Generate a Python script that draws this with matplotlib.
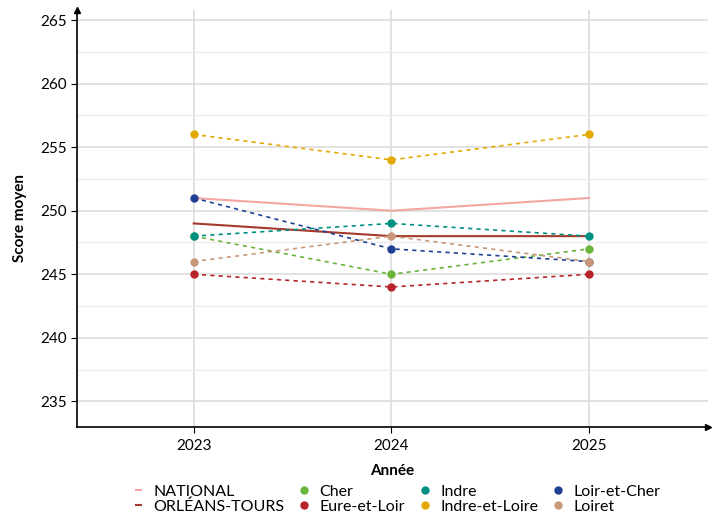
import matplotlib
matplotlib.use("Agg")
import matplotlib.pyplot as plt
from matplotlib.lines import Line2D

plt.rcParams['font.family'] = ['Lato', 'DejaVu Sans']

years = [2023, 2024, 2025]
national = [251, 250, 251]
academie = [249, 248, 248]
departements = {
    "Cher": [248, 245, 247],
    "Eure-et-Loir": [245, 244, 245],
    "Indre": [248, 249, 248],
    "Indre-et-Loire": [256, 254, 256],
    "Loir-et-Cher": [251, 247, 246],
    "Loiret": [246, 248, 246],
}
dep_colors = {
    "Cher": "#6ab43a",
    "Eure-et-Loir": "#b8232a",
    "Indre": "#009081",
    "Indre-et-Loire": "#e3a900",
    "Loir-et-Cher": "#1f3f94",
    "Loiret": "#c9987a",
}
nat_color = "#f4a6a0"
aca_color = "#a33a2c"

fig = plt.figure(figsize=(7.2, 5.18), dpi=100)
ax = fig.add_axes([0.107, 0.176, 0.876, 0.805])

ax.set_xlim(2022.41, 2025.6)
ax.set_ylim(233.0, 265.8)
ax.set_yticks([235, 240, 245, 250, 255, 260, 265])
ax.set_yticks([237.5, 242.5, 247.5, 252.5, 257.5, 262.5], minor=True)
ax.set_xticks(years)
ax.grid(True, which='major', color='#dddddd', lw=1.2)
ax.grid(True, which='minor', axis='y', color='#ececec', lw=0.9)
ax.set_axisbelow(True)

ax.plot(years, national, color=nat_color, lw=1.5, zorder=3)
ax.plot(years, academie, color=aca_color, lw=1.5, zorder=3)
for name, vals in departements.items():
    ax.plot(years, vals, color=dep_colors[name], lw=1.2, ls=(0, (2.5, 2.5)),
            marker='o', ms=5, zorder=4)

for s in ['top', 'right']:
    ax.spines[s].set_visible(False)
ax.spines['left'].set_linewidth(1.2)
ax.spines['bottom'].set_linewidth(1.2)
ax.plot(1, 0, ">k", transform=ax.transAxes, clip_on=False, ms=4)
ax.plot(0, 1, "^k", transform=ax.transAxes, clip_on=False, ms=4)

ax.tick_params(axis='both', labelsize=11, color='black', length=4)
ax.tick_params(axis='x', pad=5)
ax.tick_params(axis='y', which='minor', length=0)
ax.set_ylabel("Score moyen", fontsize=11, fontweight='bold', labelpad=9)
ax.set_xlabel("Année", fontsize=11, fontweight='bold', labelpad=8)

handles = [
    Line2D([], [], color=nat_color, lw=1.5, label="NATIONAL"),
    Line2D([], [], color=aca_color, lw=1.5, label="ORLÉANS-TOURS"),
]
for name in departements:
    handles.append(Line2D([], [], color=dep_colors[name], ls='none', marker='o', ms=5, label=name))
fig.legend(handles=handles, ncol=4, loc='lower center', bbox_to_anchor=(0.553, -0.02),
           frameon=False, fontsize=11.5, handlelength=0.3, handletextpad=0.8,
           columnspacing=1.1, labelspacing=0.05)

fig.savefig("out.png", dpi=100)
